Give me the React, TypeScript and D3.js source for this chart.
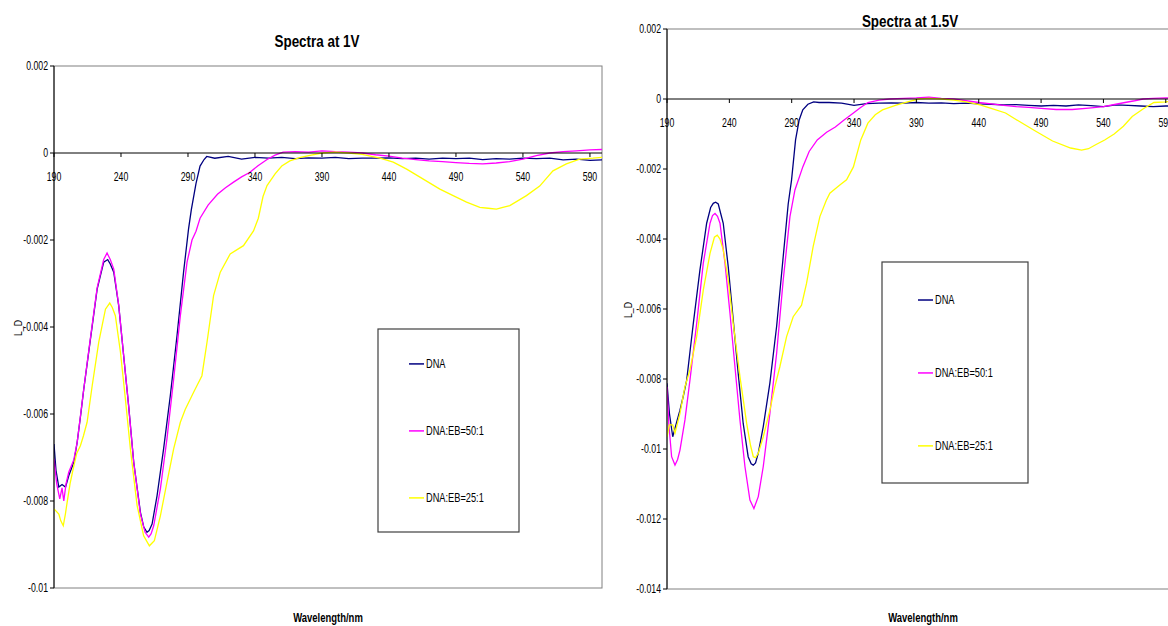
import React from "react";
import * as d3 from "d3";

// wavelength (nm), linear dichroism value (x 1e-3)
type Pt = [number, number];

// ---- Spectra at 1V ----
const dna1V: Pt[] = [
  [190, -6.69], [191.5, -7.3], [193.6, -7.68], [196, -7.62], [198.6, -7.68], [201, -7.42],
  [204.8, -7.11], [207.3, -6.65], [210, -6.0], [212.2, -5.43], [217.2, -4.28], [222.2, -3.13],
  [227.1, -2.51], [230.1, -2.45], [232, -2.55], [234.6, -2.74], [238.3, -3.51], [242, -4.66],
  [245.7, -5.81], [249.5, -7.11], [254.5, -8.26], [257, -8.6], [259.4, -8.72], [261, -8.68],
  [263.2, -8.53], [266.9, -7.88], [271.8, -6.8], [276.8, -5.58], [281.8, -4.2], [286.7, -2.74],
  [290.4, -1.75], [292.5, -1.3], [296, -0.7], [299, -0.3], [302, -0.15], [304, -0.08],
  [310, -0.12], [320, -0.08], [330, -0.14], [340, -0.1], [350, -0.12], [360, -0.1],
  [370, -0.13], [380, -0.11], [390, -0.12], [400, -0.1], [410, -0.13], [420, -0.12],
  [430, -0.12], [440, -0.11], [450, -0.13], [460, -0.12], [470, -0.14], [480, -0.12],
  [490, -0.13], [500, -0.12], [510, -0.15], [520, -0.13], [530, -0.14], [540, -0.12],
  [550, -0.13], [560, -0.12], [570, -0.16], [580, -0.14], [590, -0.17], [599, -0.16],
];
const eb50at1V: Pt[] = [
  [190, -7.03], [192, -7.6], [194.3, -7.95], [196, -7.7], [197.3, -8.0], [199, -7.6],
  [201, -7.34], [204.8, -7.05], [207.3, -6.65], [212.2, -5.43], [217.2, -4.25], [222.2, -3.1],
  [227.1, -2.45], [229.6, -2.3], [232, -2.45], [234.6, -2.67], [238.3, -3.5], [242, -4.66],
  [245.7, -5.81], [249.5, -7.11], [254.5, -8.3], [258, -8.72], [260.7, -8.83], [262.5, -8.75],
  [264.4, -8.57], [269.4, -7.72], [274.3, -6.57], [279.3, -5.2], [284.3, -3.74], [289.3, -2.51],
  [293, -2.0], [296, -1.8], [299, -1.5], [305, -1.2], [312, -0.95], [318, -0.8], [324, -0.67],
  [330, -0.55], [336, -0.45], [342, -0.3], [349, -0.15], [355, -0.05], [361, 0.02], [370, 0.03],
  [380, 0.02], [390, 0.05], [400, 0.03], [410, 0.02], [420, 0.0], [430, -0.04], [440, -0.07],
  [450, -0.12], [460, -0.15], [470, -0.18], [480, -0.2], [490, -0.22], [500, -0.24],
  [510, -0.25], [520, -0.23], [530, -0.2], [540, -0.14], [550, -0.06], [560, 0.0],
  [570, 0.03], [580, 0.05], [590, 0.07], [599, 0.08],
];
const eb25at1V: Pt[] = [
  [190, -8.18], [193.6, -8.3], [195, -8.45], [196.9, -8.57], [198.5, -8.3], [199.8, -8.03],
  [202, -7.6], [204.8, -7.19], [207, -6.9], [209.7, -6.73], [212, -6.5], [214.7, -6.19],
  [218.5, -5.35], [223.4, -4.35], [228.4, -3.59], [231.6, -3.45], [233.5, -3.55], [235.8, -3.74],
  [239.6, -4.58], [243.3, -5.66], [247, -6.8], [252, -8.1], [256.9, -8.8], [261.2, -9.03],
  [264.9, -8.91], [269.4, -8.34], [274.3, -7.57], [279.3, -6.8], [284.3, -6.19], [288, -5.89],
  [294.2, -5.5], [300.4, -5.12], [304.2, -4.35], [309.1, -3.28], [314.1, -2.74], [321.5, -2.32],
  [331.4, -2.13], [338.9, -1.79], [342.5, -1.5], [346, -1.0], [349, -0.75], [355, -0.48],
  [360, -0.3], [366, -0.18], [374, -0.1], [382, -0.05], [390, 0.0], [400, 0.02], [410, 0.0],
  [420, -0.03], [433.3, -0.12], [443.2, -0.21], [453.2, -0.37], [465.6, -0.6], [478, -0.83],
  [487.9, -0.98], [497.9, -1.13], [507.8, -1.25], [514, -1.27], [520.2, -1.29], [525, -1.25],
  [530.2, -1.21], [542.6, -0.98], [552.5, -0.76], [562.4, -0.41], [572.4, -0.25],
  [582.3, -0.14], [592.2, -0.12], [599, -0.1],
];

// ---- Spectra at 1.5V ----
const dna15V: Pt[] = [
  [190, -8.12], [192, -9.0], [194.6, -9.65], [196.4, -9.41], [198, -9.2], [200.4, -8.89],
  [203, -8.5], [205.8, -8.03], [208.5, -7.2], [211.1, -6.41], [216.4, -4.89], [221.8, -3.55],
  [225, -3.1], [227.1, -2.98], [229, -2.95], [231.1, -3.0], [235.1, -3.55], [239.1, -4.79],
  [243.1, -6.31], [247.1, -7.84], [251.1, -9.27], [255.1, -10.22], [257.5, -10.42],
  [259.2, -10.46], [261, -10.4], [263.2, -10.12], [267.2, -9.36], [272.5, -8.12], [277.9, -6.5],
  [283.2, -4.5], [287.2, -3.0], [289.9, -2.31], [293.1, -1.17], [296, -0.6], [298.9, -0.31],
  [303, -0.15], [307.6, -0.08], [312, -0.1], [320, -0.1], [330, -0.12], [340, -0.18],
  [350, -0.13], [360, -0.12], [370, -0.11], [380, -0.12], [390, -0.1], [400, -0.12],
  [410, -0.11], [420, -0.13], [430, -0.12], [440, -0.14], [450, -0.15], [460, -0.17],
  [470, -0.16], [480, -0.18], [490, -0.2], [500, -0.18], [510, -0.2], [520, -0.17],
  [530, -0.19], [540, -0.22], [550, -0.17], [560, -0.18], [570, -0.2], [580, -0.22],
  [590, -0.2], [599, -0.2],
];
const eb50at15V: Pt[] = [
  [190, -8.22], [191.5, -9.3], [193.7, -10.22], [196.4, -10.46], [198.5, -10.3], [200.4, -10.03],
  [204.4, -9.17], [208.4, -8.03], [213.8, -6.41], [219.1, -4.69], [224.5, -3.55], [226.5, -3.33],
  [228.5, -3.27], [230.5, -3.35], [232.5, -3.55], [236.5, -4.69], [240.5, -6.12], [244.5, -7.65],
  [248.5, -9.17], [252.5, -10.5], [256.5, -11.46], [259.7, -11.7], [263.2, -11.36],
  [267.2, -10.5], [272.5, -8.98], [277.9, -7.27], [283.2, -5.17], [288.6, -3.36], [292.6, -2.6],
  [298.9, -1.94], [304, -1.5], [310.5, -1.17], [318, -0.95], [325, -0.8], [332, -0.6],
  [339.5, -0.4], [345, -0.25], [351.1, -0.1], [360, -0.03], [368.6, 0.0], [380, 0.02],
  [390, 0.03], [400, 0.05], [410, 0.02], [420, 0.0], [430, -0.05], [440, -0.1], [450, -0.14],
  [460, -0.18], [470.2, -0.22], [480, -0.24], [490, -0.27], [502.1, -0.3], [515, -0.3],
  [528.2, -0.26], [540, -0.22], [550, -0.15], [557.3, -0.1], [565, -0.05], [571.8, 0.0],
  [580, 0.02], [590, 0.03], [599, 0.02],
];
const eb25at15V: Pt[] = [
  [190, -9.65], [191.9, -9.31], [194.6, -9.31], [196.4, -9.55], [200.4, -8.98], [204.4, -8.22],
  [208.4, -7.74], [213.8, -6.79], [219.1, -5.46], [224.5, -4.41], [228, -3.95], [230.3, -3.89],
  [232.5, -4.0], [235.1, -4.31], [239.1, -5.17], [243.1, -6.41], [248.5, -7.93], [253.9, -9.27],
  [257, -9.9], [259.2, -10.22], [261, -10.25], [263.2, -10.12], [267.2, -9.65], [272.5, -8.89],
  [276.5, -8.22], [280.5, -7.65], [285.9, -6.79], [291.2, -6.22], [297.9, -5.89], [301.9, -5.27],
  [307.2, -4.22], [312.6, -3.36], [317.7, -2.9], [320.6, -2.69], [328.6, -2.46], [334, -2.31],
  [339.5, -1.94], [345.4, -1.17], [351.1, -0.69], [357, -0.45], [362.8, -0.31], [374.4, -0.17],
  [383, -0.08], [391.8, 0.0], [400, 0.02], [410, 0.0], [420, -0.03], [430, -0.08],
  [441.1, -0.17], [450, -0.27], [461.5, -0.4], [472, -0.63], [484.7, -0.9], [499.2, -1.2],
  [513.7, -1.4], [522.5, -1.46], [528, -1.42], [534.1, -1.3], [541, -1.17], [548.6, -1.0],
  [556, -0.78], [563.1, -0.5], [572, -0.28], [580.5, -0.1], [590, -0.08], [599, -0.05],
];

const seriesNames = ["DNA", "DNA:EB=50:1", "DNA:EB=25:1"];
const seriesColors = ["#000080", "#FF00FF", "#FFFF00"];
const xTicks = [190, 240, 290, 340, 390, 440, 490, 540, 590];
const yTicks1V = [0.002, 0, -0.002, -0.004, -0.006, -0.008, -0.01];
const yTicks15V = [0.002, 0, -0.002, -0.004, -0.006, -0.008, -0.01, -0.012, -0.014];

const FONT = "'Liberation Sans', Arial, sans-serif";

// narrow text: Arial metrics squeezed horizontally (like Arial Narrow)
const Txt = ({
  x,
  y,
  size,
  anchor = "start",
  bold = false,
  rotate = 0,
  sx = 0.74,
  dy,
  children,
}: {
  x: number;
  y: number;
  size: number;
  anchor?: string;
  bold?: boolean;
  rotate?: number;
  sx?: number;
  dy?: string;
  children: React.ReactNode;
}) => (
  <text
    transform={`translate(${x},${y}) rotate(${rotate}) scale(${sx},1)`}
    textAnchor={anchor}
    dy={dy}
    fontSize={size}
    fontWeight={bold ? "bold" : "normal"}
    fontFamily={FONT}
    fill="#000"
  >
    {children}
  </text>
);

interface ChartProps {
  title: string;
  series: Pt[][];
  yTicks: number[];
  yDomain: [number, number];
  left: number;
  right: number;
  top: number;
  bottom: number;
  titleX: number;
  titleY: number;
  xTitleX: number;
  yLabelX: number;
  yLabelY: number;
  legend: { x: number; y: number; w: number; h: number; lineX: number };
}

const Chart = (p: ChartProps) => {
  const x = d3.scaleLinear([190, 599], [p.left, p.right]);
  const y = d3.scaleLinear(p.yDomain, [p.bottom, p.top]);
  const line = d3
    .line<Pt>()
    .x((d) => x(d[0]))
    .y((d) => y(d[1] / 1000));
  const y0 = y(0);
  const L = p.legend;
  const clipId = `clip-${p.left}`;
  return (
    <g>
      <defs>
        <clipPath id={clipId}>
          <rect x={p.left} y={p.top} width={p.right - p.left} height={p.bottom - p.top} />
        </clipPath>
      </defs>
      {/* plot area frame */}
      <rect
        x={p.left}
        y={p.top}
        width={p.right - p.left}
        height={p.bottom - p.top}
        fill="none"
        stroke="#808080"
        strokeWidth={1}
      />
      {/* series */}
      <g clipPath={`url(#${clipId})`}>
        {p.series.map((s, i) => (
          <path key={i} d={line(s) ?? ""} fill="none" stroke={seriesColors[i]} strokeWidth={1.3} />
        ))}
      </g>
      {/* y axis */}
      <line x1={p.left} x2={p.left} y1={p.top} y2={p.bottom} stroke="#000" />
      {p.yTicks.map((t) => (
        <g key={t}>
          <line x1={p.left - 4} x2={p.left} y1={y(t)} y2={y(t)} stroke="#000" />
          <Txt x={p.left - 6} y={y(t)} dy="0.35em" size={12.5} anchor="end" sx={0.7}>
            {t === 0 ? "0" : String(t)}
          </Txt>
        </g>
      ))}
      {/* x axis at zero */}
      <line x1={p.left} x2={p.right} y1={y0} y2={y0} stroke="#000" />
      {xTicks.map((t) => (
        <g key={t}>
          <line x1={x(t)} x2={x(t)} y1={y0} y2={y0 + 4} stroke="#000" />
          <Txt x={x(t)} y={y0 + 28} size={12.5} anchor="middle" sx={0.7}>
            {t}
          </Txt>
        </g>
      ))}
      {/* titles */}
      <Txt x={p.titleX} y={p.titleY} size={17} bold anchor="middle" sx={0.79}>
        {p.title}
      </Txt>
      <Txt x={p.xTitleX} y={622} size={12} bold anchor="middle" sx={0.79}>
        Wavelength/nm
      </Txt>
      <Txt x={p.yLabelX} y={p.yLabelY} size={11} anchor="middle" rotate={-90} sx={0.8}>
        L_D
      </Txt>
      {/* legend */}
      <rect x={L.x} y={L.y} width={L.w} height={L.h} fill="#fff" stroke="#404040" strokeWidth={1.2} />
      {seriesNames.map((n, i) => {
        const ly = L.y + L.h * (0.172 + 0.33 * i);
        return (
          <g key={n}>
            <line x1={L.lineX} x2={L.lineX + 15} y1={ly} y2={ly} stroke={seriesColors[i]} strokeWidth={1.5} />
            <Txt x={L.lineX + 17} y={ly} dy="0.35em" size={12.5} sx={0.74}>
              {n}
            </Txt>
          </g>
        );
      })}
    </g>
  );
};

export default function App() {
  return (
    <svg
      width={1168}
      height={626}
      style={{ position: "absolute", left: 0, top: 0, background: "#fff" }}
    >
      <rect width={1168} height={626} fill="#fff" />
      <Chart
        title="Spectra at 1V"
        series={[dna1V, eb50at1V, eb25at1V]}
        yTicks={yTicks1V}
        yDomain={[-0.01, 0.002]}
        left={54}
        right={602}
        top={66}
        bottom={588}
        titleX={317}
        titleY={47}
        xTitleX={328}
        yLabelX={22}
        yLabelY={328}
        legend={{ x: 378, y: 329, w: 141, h: 203, lineX: 409 }}
      />
      <Chart
        title="Spectra at 1.5V"
        series={[dna15V, eb50at15V, eb25at15V]}
        yTicks={yTicks15V}
        yDomain={[-0.014, 0.002]}
        left={667}
        right={1177}
        top={29}
        bottom={589}
        titleX={910}
        titleY={27}
        xTitleX={923}
        yLabelX={632}
        yLabelY={310}
        legend={{ x: 882, y: 262, w: 146, h: 221, lineX: 918 }}
      />
    </svg>
  );
}
